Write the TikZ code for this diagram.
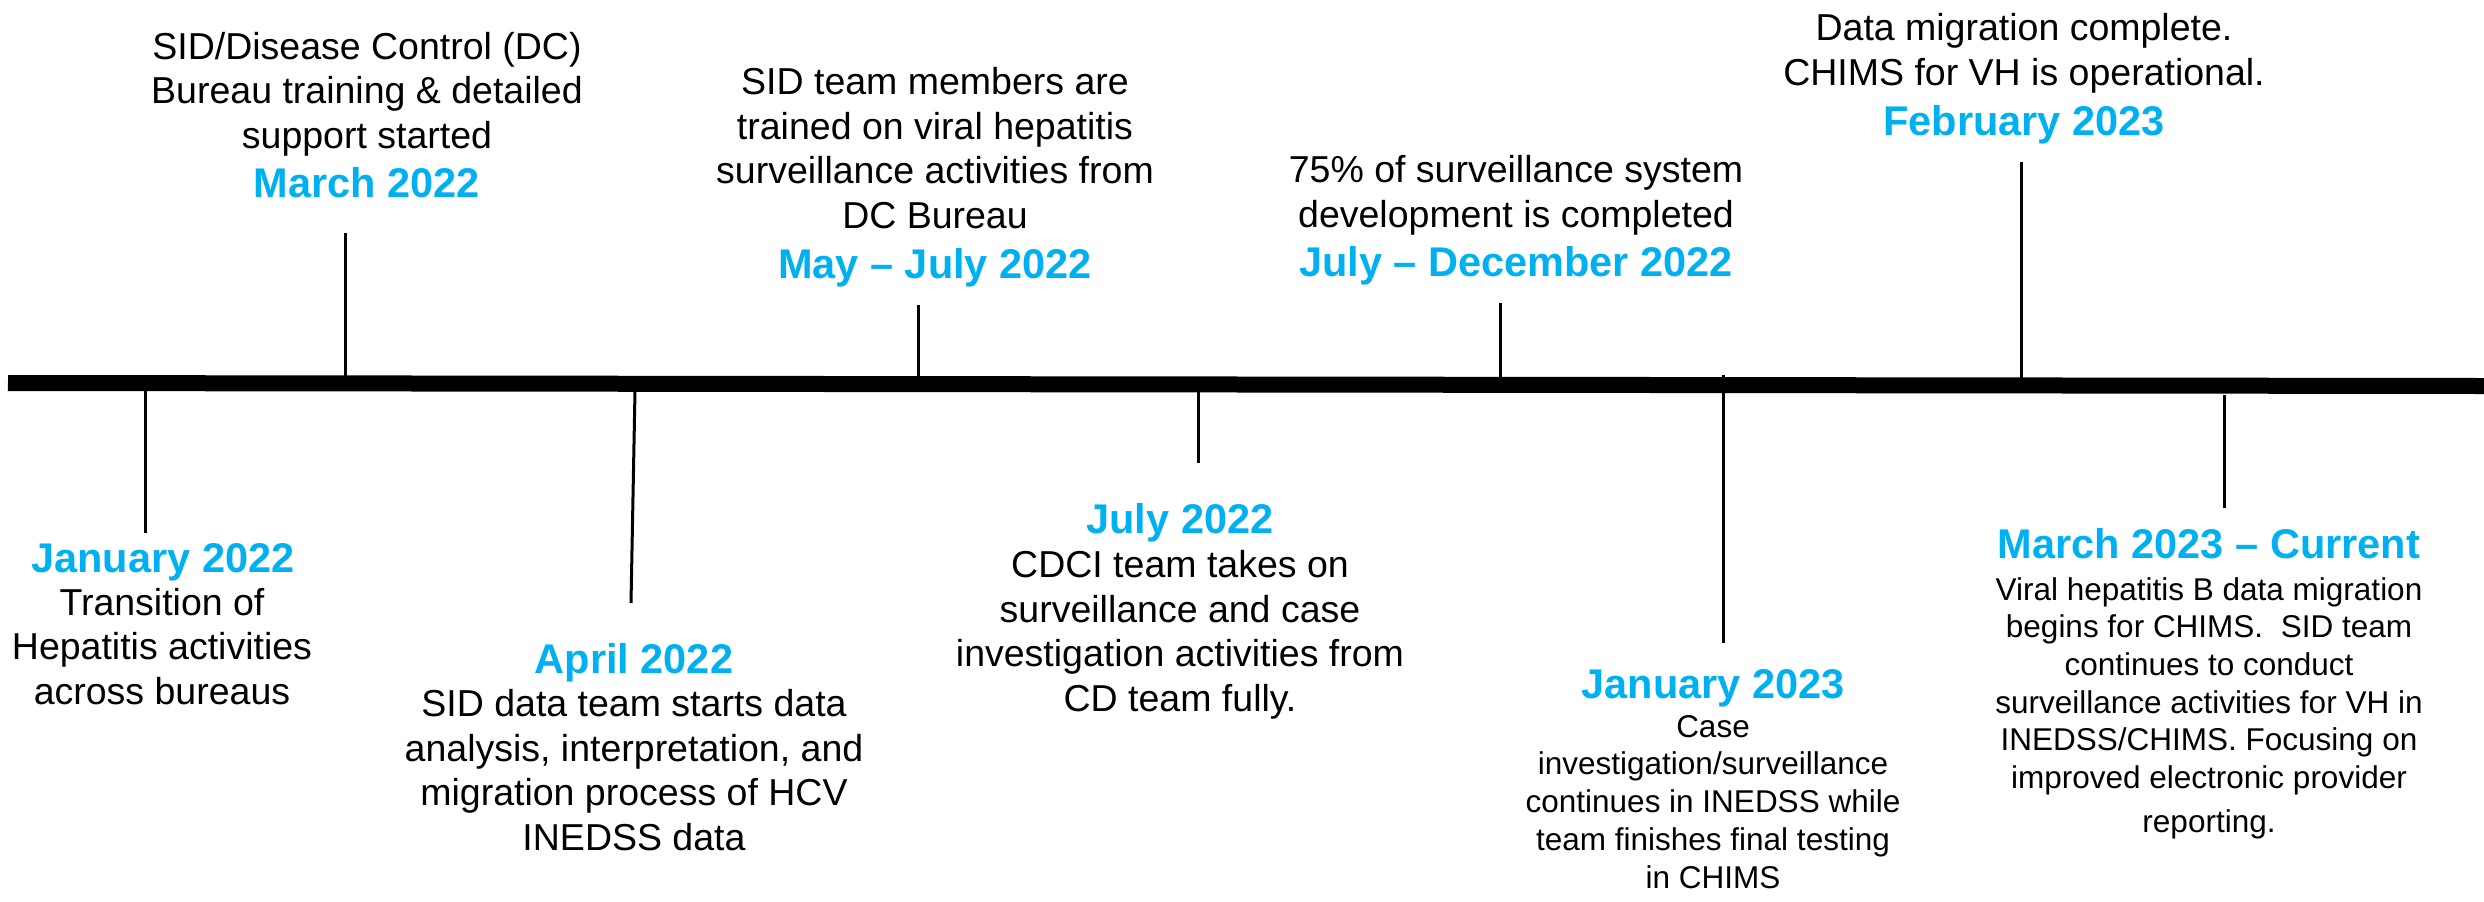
\documentclass[tikz,border=0pt]{standalone}
\usepackage{fontspec}
\setmainfont{Liberation Sans}
\definecolor{dateblue}{HTML}{00B0F0}
\begin{document}
\begin{tikzpicture}[x=0.5pt,y=-0.5pt,
  desc/.style={align=center, anchor=base, inner sep=0pt, font=\fontsize{18.75}{22.25}\selectfont},
  descsmall/.style={align=center, anchor=base, inner sep=0pt, font=\fontsize{15.75}{18.85}\selectfont},
  datelbl/.style={anchor=base, inner sep=0pt, text=dateblue, font=\fontsize{20.75}{24}\selectfont\bfseries},
  tickline/.style={line width=1.5pt, black},
  axisline/.style={line width=8pt, black}]
\useasboundingbox (0,0) rectangle (2484,901);
% main axis
\coordinate (barL) at (8,383);
\coordinate (barR) at (2484,386);
\draw[axisline] (barL) -- (barR);

% tick end points
\coordinate (t1a) at (145,391);  \coordinate (t1b) at (145,533);
\coordinate (t2a) at (345,233);  \coordinate (t2b) at (345,376);
\coordinate (t3a) at (635,391);  \coordinate (t3b) at (631,603);
\coordinate (t4a) at (918,305);  \coordinate (t4b) at (918,377);
\coordinate (t5a) at (1198,392); \coordinate (t5b) at (1198,463);
\coordinate (t6a) at (1500,303); \coordinate (t6b) at (1500,377);
\coordinate (t7a) at (1723,375); \coordinate (t7b) at (1723,643);
\coordinate (t8a) at (2021,162); \coordinate (t8b) at (2021,378);
\coordinate (t9a) at (2224,395); \coordinate (t9b) at (2224,508);
\draw[tickline] (t1a) -- (t1b);
\draw[tickline] (t2a) -- (t2b);
\draw[tickline] (t3a) -- (t3b);
\draw[tickline] (t4a) -- (t4b);
\draw[tickline] (t5a) -- (t5b);
\draw[tickline] (t6a) -- (t6b);
\draw[tickline] (t7a) -- (t7b);
\draw[tickline] (t8a) -- (t8b);
\draw[tickline] (t9a) -- (t9b);

% above the axis (multi-line nodes are placed by the baseline of their last line)
\node[desc] (txtA) at (367,148) {SID/Disease Control (DC)\\Bureau training \& detailed\\support started};
\node[datelbl] (dateA) at (367,197) {March 2022};

\node[desc] (txtB) at (935,228) {SID team members are\\trained on viral hepatitis\\surveillance activities from\\DC Bureau};
\node[datelbl] (dateB) at (935,278) {May – July 2022};

\node[desc] (txtC) at (1516,227) {75\% of surveillance system\\development is completed};
\node[datelbl] (dateC) at (1516,276) {July – December 2022};

\node[desc] (txtD) at (2024,85) {Data migration complete.\\CHIMS for VH is operational.};
\node[datelbl] (dateD) at (2024,135) {February 2023};

% below the axis
\node[datelbl] (dateE) at (163,572) {January 2022};
\node[desc] (txtE) at (162,704) {Transition of\\Hepatitis activities\\across bureaus};

\node[datelbl] (dateF) at (634,673) {April 2022};
\node[desc] (txtF) at (634,850) {SID data team starts data\\analysis, interpretation, and\\migration process of HCV\\INEDSS data};

\node[datelbl] (dateG) at (1180,533) {July 2022};
\node[desc] (txtG) at (1180,711) {CDCI team takes on\\surveillance and case\\investigation activities from\\CD team fully.};

\node[datelbl] (dateH) at (1713,698) {January 2023};
\node[descsmall] (txtH) at (1713,888) {Case\\investigation/surveillance\\continues in INEDSS while\\team finishes final testing\\in CHIMS};

\node[datelbl] (dateI) at (2209,558) {March 2023 – Current};
\node[descsmall] (txtI) at (2209,832) {Viral hepatitis B data migration\\begins for CHIMS.\ \ SID team\\continues to conduct\\surveillance activities for VH in\\INEDSS/CHIMS. Focusing on\\improved electronic provider\\[2.9pt]reporting.};
\end{tikzpicture}
\end{document}
